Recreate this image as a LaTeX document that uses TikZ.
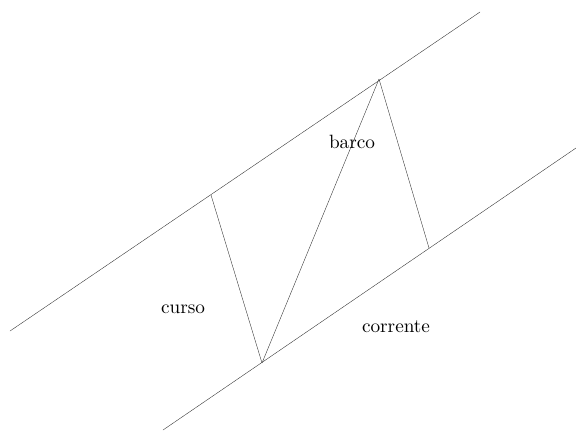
\documentclass[tikz,border=0pt]{standalone}
\begin{document}
\begin{tikzpicture}[line join = round, line cap = round, x=0.52pt, y=-0.52pt]
	\tikzset{margem/.style={black!80,line width=0.2pt},
		trajeto/.style={black!80,line width=0.2pt}}
	\useasboundingbox (0,0) rectangle (576,430);
	% margens do rio
	\coordinate (sup-a) at (10,331);
	\coordinate (sup-b) at (480,12);
	\coordinate (inf-a) at (163,430);
	\coordinate (inf-b) at (576,148);
	\draw[margem] (sup-a)--(sup-b);
	\draw[margem] (inf-a)--(inf-b);
	% trajeto do barco
	\coordinate (p1) at (211,195);
	\coordinate (p2) at (262,363);
	\coordinate (p3) at (379,79);
	\coordinate (p4) at (429,248);
	\draw[trajeto] (p1)--(p2)--(p3)--(p4);
	\node (barco) at (352,142) {barco};
	\node (curso) at (183,309) {curso};
	\node (corrente) at (396,327) {corrente};
\end{tikzpicture}
\end{document}
